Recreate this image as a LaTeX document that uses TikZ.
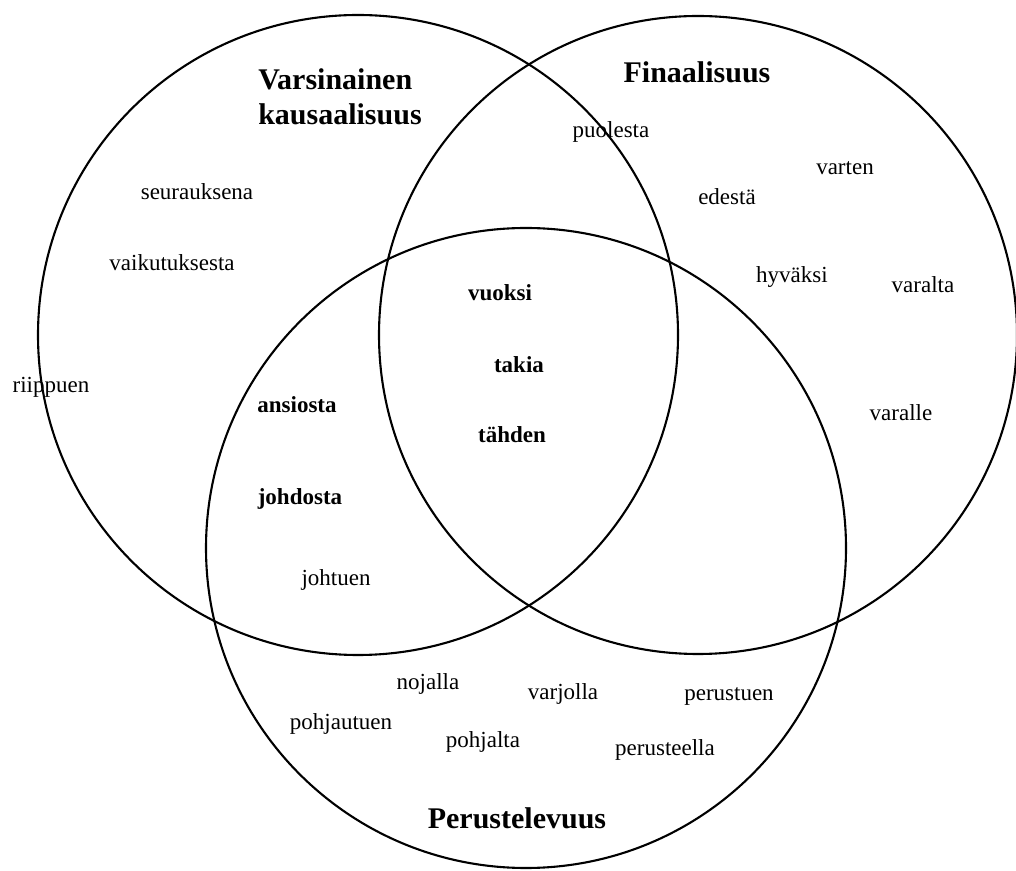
\documentclass[tikz,border=0pt]{standalone}
\usepackage{fontspec}
\setmainfont{Liberation Serif}
\usepackage{tikz}
\tikzset{
  ring/.style={draw=black, line width=2.1pt},
  word/.style={font=\fontsize{23}{27}\selectfont, inner sep=0pt,
    text height=0.7em, text depth=0.2em, yshift=-5pt},
  keyword/.style={word, font=\fontsize{23}{27}\selectfont\bfseries},
  heading/.style={font=\fontsize{30}{35}\selectfont\bfseries, inner sep=0pt,
    align=left}
}

\begin{document}
\begin{tikzpicture}[x=1pt, y=1pt]
  \useasboundingbox (0,0) rectangle (1016,870);

  % Circles
  \draw[ring] (358,535) circle (320pt);
  \draw[ring] (698,535) circle (319pt);
  \draw[ring] (526,322) circle (320pt);

  % Headings
  \node[heading] (kausal) at (340,773) {Varsinainen\\kausaalisuus};
  \node[heading] (final) at (697,798) {Finaalisuus};
  \node[heading] (perust) at (517,52) {Perustelevuus};

  % Varsinainen kausaalisuus only
  \node[word] (seur) at (197,678) {seurauksena};
  \node[word] (vaik) at (172,607) {vaikutuksesta};
  \node[word] (riip) at (51,485) {riippuen};

  % Kausaalisuus + Perustelevuus
  \node[keyword] (ansi) at (297,465) {ansiosta};
  \node[keyword] (johd) at (300,373) {johdosta};
  \node[word] (joht) at (336,292) {johtuen};

  % All three
  \node[keyword] (vuok) at (500,577) {vuoksi};
  \node[keyword] (taki) at (519,505) {takia};
  \node[keyword] (tahd) at (512,435) {tähden};

  % Finaalisuus
  \node[word] (puol) at (611,740) {puolesta};
  \node[word] (vart) at (845,703) {varten};
  \node[word] (edes) at (727,673) {edestä};
  \node[word] (hyva) at (792,595) {hyväksi};
  \node[word] (varalta) at (923,585) {varalta};
  \node[word] (varalle) at (901,457) {varalle};

  % Perustelevuus
  \node[word] (noja) at (428,188) {nojalla};
  \node[word] (varj) at (563,178) {varjolla};
  \node[word] (pertu) at (729,177) {perustuen};
  \node[word] (pohju) at (341,148) {pohjautuen};
  \node[word] (pohja) at (483,130) {pohjalta};
  \node[word] (perte) at (665,122) {perusteella};
\end{tikzpicture}
\end{document}
